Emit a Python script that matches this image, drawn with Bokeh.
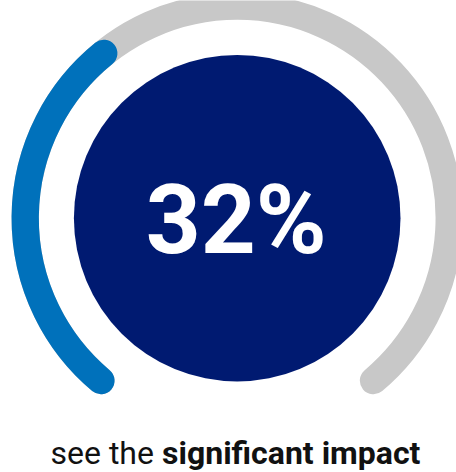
from bokeh.plotting import figure
from bokeh.models import Range1d
from bokeh.core.properties import value
from bokeh.embed import file_html
from bokeh.resources import INLINE

# ---- data ----
value_label = ["32%"]
gauge_start_deg = [230.0]      # start of the track (bottom-left)
gauge_end_deg = [-50.0]        # end of the track (bottom-right)
progress_end_deg = [129.0]     # end of the blue progress arc
caption_regular = ["see the"]
caption_bold = ["significant impact"]

W, H = 456, 472
p = figure(width=W, height=H, x_range=Range1d(0, W), y_range=Range1d(0, H),
           output_backend="svg", toolbar_location=None, min_border=0)
p.axis.visible = False
p.grid.visible = False
p.outline_line_color = None
p.background_fill_color = "white"
p.border_fill_color = "white"

cx, cy = 236.7, H - 217.7
R_track = 212
R_disc = 163.3
stroke = 27.3

p.arc(x=[cx], y=[cy], radius=R_track, radius_units="screen",
      start_angle=gauge_start_deg, end_angle=gauge_end_deg, start_angle_units="deg",
      end_angle_units="deg", direction="clock",
      line_color="#c8c8c8", line_width=stroke, line_cap="round")
p.arc(x=[cx], y=[cy], radius=R_track, radius_units="screen",
      start_angle=gauge_start_deg, end_angle=progress_end_deg, start_angle_units="deg",
      end_angle_units="deg", direction="clock",
      line_color="#0071bb", line_width=stroke, line_cap="round")

p.circle(x=[cx], y=[cy], radius=R_disc, radius_units="screen",
         fill_color="#001a71", line_color=None)

p.text(x=[cx - 1], y=[H - 219], text=value_label, text_font=value("Roboto"),
       text_font_style="bold", text_font_size="96px", text_color="white",
       text_align="center", text_baseline="alphabetic")

p.text(x=[50], y=[H - 452], text=caption_regular, text_font=value("Roboto"),
       text_font_style="normal", text_font_size="32px", text_color="#111111",
       text_align="left", text_baseline="alphabetic")
p.text(x=[161.5], y=[H - 452], text=caption_bold, text_font=value("Roboto"),
       text_font_style="bold", text_font_size="32px", text_color="#111111",
       text_align="left", text_baseline="alphabetic")

open("out.html", "w").write(file_html(p, INLINE))
